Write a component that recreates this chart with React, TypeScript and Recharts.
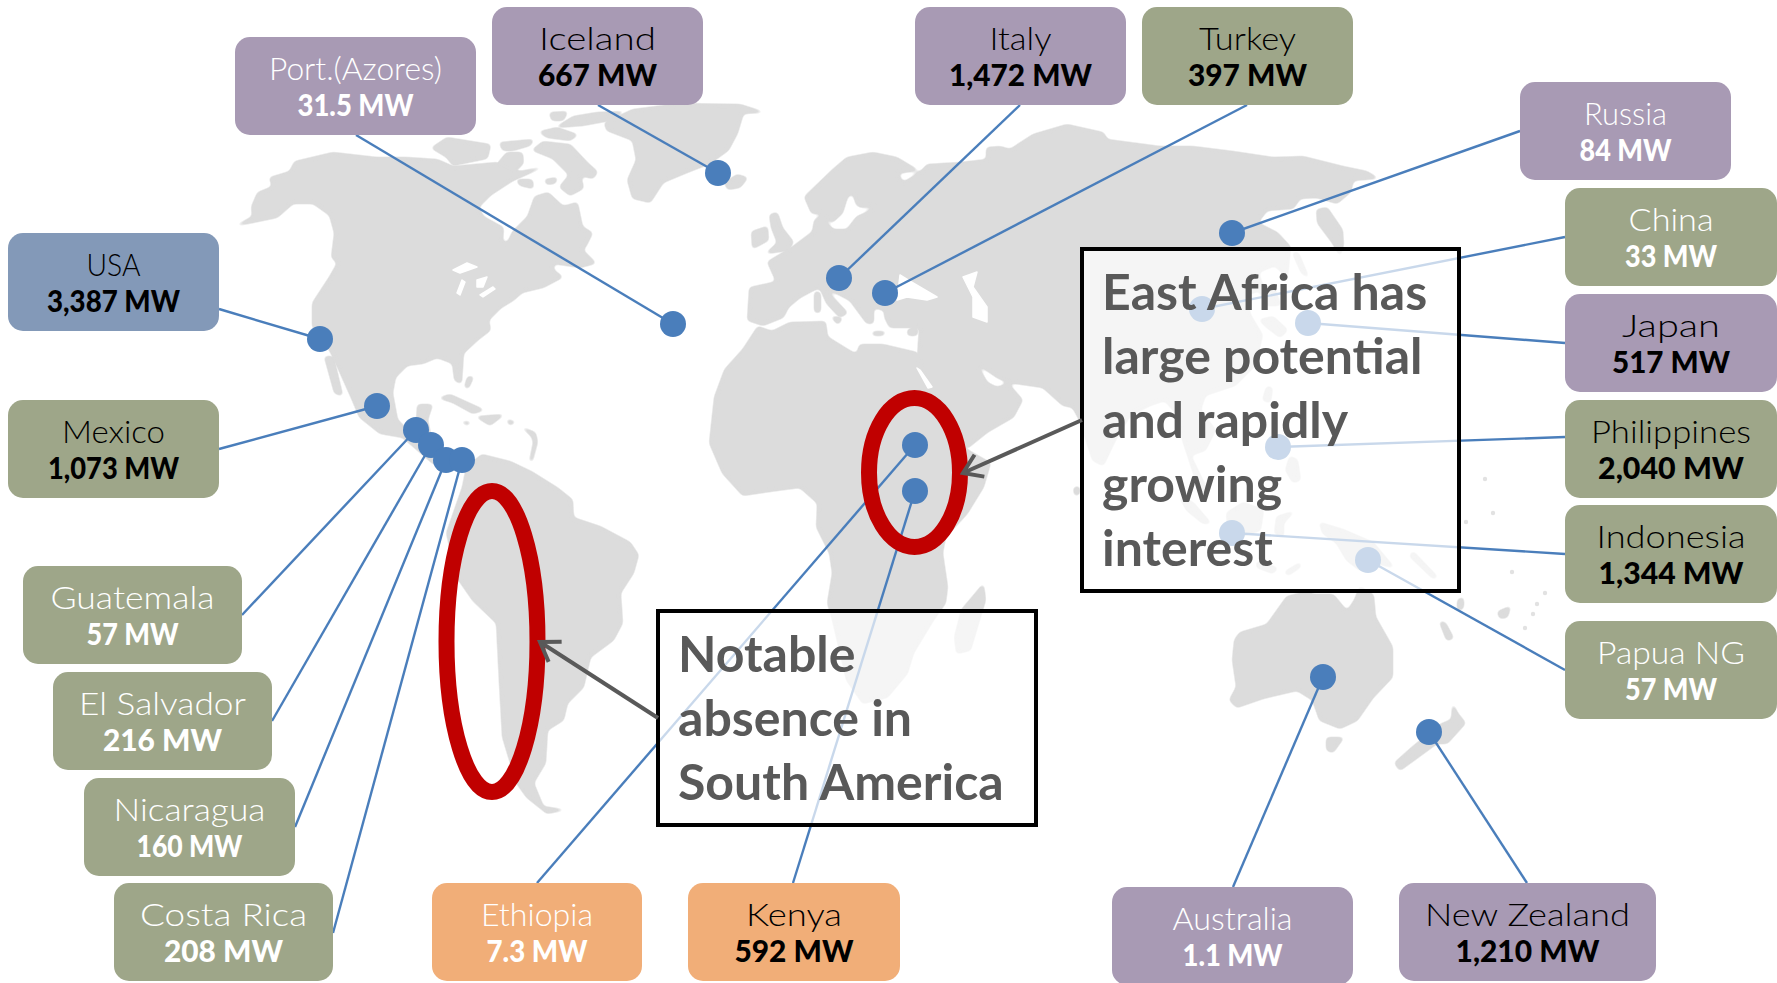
import { ScatterChart, Scatter, XAxis, YAxis } from "recharts";

const WIDTH = 1777;
const HEIGHT = 983;

type Pt = [number, number];

// Installed geothermal capacity by country
const countries = [
  "Port.(Azores)", "Iceland", "Italy", "Turkey", "Russia", "USA", "China", "Japan", "Mexico", "Philippines",
  "Indonesia", "Guatemala", "El Salvador", "Nicaragua", "Papua NG", "Costa Rica", "Ethiopia", "Kenya", "Australia", "New Zealand",
];
const capacityMw = [31.5, 667, 1472, 397, 84, 3387, 33, 517, 1073, 2040, 1344, 57, 216, 160, 57, 208, 7.3, 592, 1.1, 1210];
const regionGroup = [
  "europe", "europe", "europe", "asia", "europe", "usa", "asia", "europe", "asia", "asia",
  "asia", "asia", "asia", "asia", "asia", "asia", "africa", "africa", "europe", "europe",
];
const lightLabel = [true, false, false, false, true, false, true, false, false, false, false, true, true, true, true, true, true, false, true, false];

// Site positions on the map, in map units
const siteX = [673, 718, 839, 885, 1232, 320, 1202, 1308, 377, 1278, 1232, 416, 431, 446, 1368, 462, 915, 915, 1323, 1429];
const siteY = [324, 173, 278, 293, 233, 339, 309, 323, 406, 447, 533, 430, 445, 460, 560, 460, 445, 491, 677, 732];

// Callout box layout
const boxLeft = [235, 492, 915, 1142, 1520, 8, 1565, 1565, 8, 1565, 1565, 23, 53, 84, 1565, 114, 432, 688, 1112, 1399];
const boxTop = [37, 7, 7, 7, 82, 233, 188, 294, 400, 400, 505, 566, 672, 778, 621, 883, 883, 883, 887, 883];
const boxWidth = [241, 211, 211, 211, 211, 211, 212, 212, 211, 212, 212, 219, 219, 211, 212, 219, 210, 212, 241, 257];
const anchorX = [356, 598, 1020, 1247, 1520, 219, 1565, 1565, 219, 1565, 1565, 242, 272, 295, 1565, 333, 537, 793, 1233, 1527];
const anchorY = [135, 105, 105, 105, 131, 309, 237, 343, 449, 437, 554, 615, 721, 827, 670, 933, 883, 883, 887, 883];
const nameWidth = [173, 117, 62, 97, 83, 54, 85, 98, 103, 160, 149, 164, 167, 152, 148, 167, 112, 96, 120, 205];
const valueWidth = [116, 119, 143, 119, 92, 133, 92, 118, 131, 146, 145, 92, 119, 106, 92, 119, 101, 119, 100, 144];
const BOX_HEIGHT = 98;

const groupFill: Record<string, string> = { europe: "#a89ab4", asia: "#9ea689", usa: "#8399b8", africa: "#f1ae78" };

// Land outlines
const northAmerica: Pt[] = [
  [238, 225], [253, 217], [252, 207], [258, 193], [273, 187], [270, 178], [290, 172], [295, 162], [333, 153], [377, 158], [407, 158],
  [437, 160], [453, 167], [497, 163], [520, 172], [540, 168], [513, 180], [490, 195], [478, 207], [483, 217], [503, 228], [502, 243],
  [508, 243], [513, 232], [528, 217], [535, 197], [548, 193], [563, 207], [577, 203], [582, 227], [592, 233], [585, 247], [573, 253],
  [582, 250], [595, 263], [580, 267], [553, 263], [553, 270], [562, 277], [543, 287], [522, 292], [513, 300], [500, 308], [488, 320],
  [490, 330], [477, 340], [463, 353], [461, 383], [455, 380], [453, 363], [437, 357], [423, 363], [407, 365], [395, 377], [392, 393],
  [397, 420], [410, 433], [417, 420], [418, 405], [432, 405], [427, 420], [433, 447], [453, 458], [477, 460], [453, 470], [433, 463],
  [403, 437], [380, 433], [360, 417], [352, 398], [335, 360], [330, 350], [313, 327], [313, 303], [330, 277], [338, 263], [332, 257],
  [335, 233], [330, 215], [313, 203], [293, 203], [277, 217], [253, 222],
];
const baja: Pt[] = [[325, 357], [333, 357], [342, 395], [335, 393]];
const baffin: Pt[] = [[533, 150], [543, 142], [570, 145], [587, 163], [597, 172], [593, 178], [580, 175], [583, 188], [570, 195], [560, 187], [570, 175], [553, 158]];
const victoria: Pt[] = [[432, 148], [447, 138], [490, 145], [487, 158], [453, 165], [447, 157]];
const banks: Pt[] = [[500, 143], [533, 140], [530, 145], [513, 150], [503, 150]];
const somerset: Pt[] = [[507, 153], [522, 153], [523, 163], [513, 173], [497, 165]];
const southampton: Pt[] = [[517, 180], [532, 180], [533, 188], [520, 185]];
const coats: Pt[] = [[545, 180], [557, 178], [555, 183], [547, 184]];
const devon: Pt[] = [[540, 132], [557, 128], [577, 135], [570, 140], [547, 137]];
const melville: Pt[] = [[550, 113], [567, 112], [563, 120], [552, 120]];
const ellesmere: Pt[] = [[557, 127], [573, 117], [597, 113], [623, 112], [610, 120], [583, 125]];
const greenland: Pt[] = [[605, 123], [633, 110], [680, 104], [740, 105], [762, 112], [743, 113], [737, 133], [728, 150], [710, 163], [687, 172], [663, 182], [650, 202], [633, 198], [628, 180], [637, 160], [633, 140], [607, 130]];
const cuba: Pt[] = [[440, 398], [450, 395], [483, 410], [473, 413], [453, 402]];
const hispaniola: Pt[] = [[477, 417], [503, 415], [490, 425]];
const jamaica: Pt[] = [[462, 422], [470, 422], [468, 425]];
const puertoRico: Pt[] = [[507, 420], [515, 422], [510, 425]];
const bahamas: Pt[] = [[465, 387], [468, 377], [473, 377], [468, 388]];
const antilles: Pt[] = [[523, 428], [535, 433], [537, 442], [532, 461], [530, 461], [534, 442], [532, 436]];
const southAmerica: Pt[] = [
  [482, 455], [510, 462], [533, 473], [557, 488], [572, 500], [573, 518], [600, 527], [630, 543], [638, 555], [633, 573], [620, 593],
  [622, 623], [613, 640], [590, 657], [583, 687], [567, 703], [563, 720], [547, 730], [545, 763], [533, 783], [543, 807], [563, 810],
  [547, 813], [527, 797], [517, 783], [503, 737], [500, 683], [497, 623], [473, 600], [457, 577], [447, 533], [463, 487], [467, 467],
];
const iceland: Pt[] = [[725, 183], [737, 175], [747, 178], [740, 187], [728, 189]];
const ireland: Pt[] = [[752, 232], [767, 227], [768, 240], [753, 248]];
const britain: Pt[] = [[770, 215], [777, 213], [782, 228], [793, 242], [788, 250], [767, 253], [778, 243], [772, 228]];
const eurasia: Pt[] = [
  [748, 320], [750, 288], [777, 282], [768, 262], [793, 247], [813, 232], [815, 220], [827, 213], [825, 222], [833, 230], [847, 230],
  [857, 217], [862, 215], [880, 205], [862, 207], [857, 205], [852, 190], [863, 180], [847, 197], [842, 213], [832, 222], [823, 213],
  [812, 213], [805, 197], [833, 170], [847, 158], [873, 153], [897, 158], [917, 170], [897, 173], [903, 183], [913, 177], [923, 170],
  [927, 165], [960, 163], [987, 160], [987, 148], [1000, 147], [1010, 150], [1033, 135], [1067, 125], [1103, 133], [1107, 140], [1160, 147],
  [1193, 147], [1233, 152], [1273, 158], [1303, 157], [1343, 167], [1367, 172], [1377, 178], [1353, 180], [1350, 192], [1337, 203],
  [1317, 197], [1300, 198], [1293, 208], [1267, 210], [1257, 223], [1277, 233], [1290, 247], [1287, 277], [1275, 265], [1258, 272],
  [1262, 285], [1275, 290], [1280, 305], [1265, 305], [1260, 290], [1245, 295], [1250, 315], [1262, 335], [1255, 365], [1235, 385],
  [1205, 395], [1200, 410], [1215, 430], [1205, 450], [1190, 455], [1207, 490], [1200, 492], [1183, 440], [1178, 415], [1165, 400],
  [1150, 405], [1130, 415], [1115, 440], [1103, 465], [1093, 460], [1080, 420], [1073, 407], [1063, 405], [1043, 387], [1008, 382],
  [997, 377], [975, 362], [987, 383], [997, 388], [1008, 384], [1022, 400], [1013, 417], [987, 432], [967, 448], [940, 420], [925, 385],
  [918, 357], [920, 327], [907, 327], [890, 327], [885, 317], [885, 310], [873, 307], [873, 323], [867, 323], [850, 300], [837, 293],
  [823, 288], [832, 297], [847, 313], [840, 317], [827, 303], [820, 287], [813, 290], [800, 297], [788, 307], [783, 317], [763, 325],
];
const africa: Pt[] = [
  [758, 327], [772, 332], [790, 323], [825, 322], [827, 337], [848, 350], [857, 355], [860, 345], [883, 345], [917, 353], [935, 395],
  [967, 450], [990, 463], [983, 487], [967, 513], [945, 537], [942, 553], [947, 587], [945, 603], [933, 620], [913, 653], [907, 673],
  [887, 697], [863, 703], [847, 680], [833, 620], [828, 603], [833, 573], [830, 553], [817, 527], [818, 503], [800, 487], [777, 490],
  [743, 495], [723, 473], [710, 443], [715, 397], [725, 370], [743, 350],
];
const madagascar: Pt[] = [[983, 585], [985, 600], [970, 650], [957, 653], [955, 637], [962, 610], [973, 597]];
const sicily: Pt[] = [[832, 317], [842, 318], [838, 324]];
const sardinia: Pt[] = [[815, 292], [820, 293], [820, 312], [815, 312]];
const crete: Pt[] = [[873, 332], [885, 332], [883, 335], [873, 335]];
const cyprus: Pt[] = [[908, 330], [917, 327], [917, 335], [908, 335]];
const kamchatka: Pt[] = [[1317, 210], [1327, 208], [1342, 230], [1343, 245], [1340, 255], [1333, 243], [1318, 223]];
const sakhalin: Pt[] = [[1293, 253], [1298, 253], [1308, 277], [1302, 273]];
const japan: Pt[] = [[1260, 320], [1273, 317], [1287, 330], [1280, 337], [1267, 327]];
const srilanka: Pt[] = [[1074, 488], [1079, 487], [1079, 494], [1075, 495]];
const luzon: Pt[] = [[1267, 387], [1272, 388], [1270, 402], [1263, 400]];
const mindanao: Pt[] = [[1290, 457], [1297, 460], [1300, 480], [1293, 482], [1286, 470]];
const sumatra: Pt[] = [[1180, 497], [1193, 503], [1210, 523], [1203, 523], [1187, 510]];
const borneo: Pt[] = [[1227, 513], [1243, 503], [1263, 510], [1260, 530], [1237, 537], [1228, 527]];
const sulawesi: Pt[] = [[1277, 517], [1293, 512], [1283, 523], [1283, 537], [1275, 533]];
const java: Pt[] = [[1257, 562], [1277, 568], [1273, 573], [1257, 567]];
const timor: Pt[] = [[1285, 572], [1300, 563], [1300, 567], [1288, 575]];
const newGuinea: Pt[] = [[1320, 523], [1343, 530], [1373, 543], [1393, 567], [1377, 563], [1360, 570], [1347, 560], [1337, 543], [1323, 533]];
const solomons: Pt[] = [[1413, 552], [1437, 577], [1433, 578], [1410, 556]];
const australia: Pt[] = [
  [1235, 640], [1240, 633], [1267, 625], [1287, 597], [1307, 592], [1313, 595], [1333, 595], [1347, 612], [1355, 600], [1360, 587],
  [1373, 595], [1375, 617], [1392, 647], [1392, 677], [1373, 697], [1357, 720], [1340, 728], [1320, 720], [1313, 700], [1297, 690],
  [1263, 698], [1237, 707], [1230, 700], [1237, 687], [1233, 660],
];
const tasmania: Pt[] = [[1327, 738], [1343, 738], [1333, 752], [1327, 750]];
const newZealand: Pt[] = [[1453, 705], [1457, 713], [1465, 723], [1447, 743], [1437, 743], [1400, 770], [1395, 763], [1413, 747], [1440, 725], [1452, 720]];
const newCaledonia: Pt[] = [[1440, 622], [1445, 623], [1453, 638], [1447, 640]];
const vanuatu: Pt[] = [[1458, 600], [1463, 598], [1463, 608], [1458, 610]];
const fiji: Pt[] = [[1498, 612], [1510, 607], [1507, 617], [1500, 618]];
const landMasses = [
  northAmerica, baja, baffin, victoria, banks, somerset, southampton, coats, devon, melville, ellesmere, greenland, cuba, hispaniola,
  jamaica, puertoRico, bahamas, antilles, southAmerica, iceland, ireland, britain, eurasia, africa, madagascar, sicily, sardinia, crete,
  cyprus, kamchatka, sakhalin, japan, srilanka, luzon, mindanao, sumatra, borneo, sulawesi, java, timor, newGuinea, solomons, australia,
  tasmania, newZealand, newCaledonia, vanuatu, fiji,
];
const pacificSpecks: Pt[] = [[1493, 513], [1466, 522], [1485, 479], [1512, 572], [1545, 593], [1537, 604], [1533, 614], [1525, 628]];

// Inland water cut out of the land fill
const lakeSuperior: Pt[] = [[453, 270], [467, 263], [477, 267], [460, 273]];
const lakeMichigan: Pt[] = [[457, 293], [462, 280], [465, 282], [460, 295]];
const lakeHuron: Pt[] = [[477, 280], [487, 277], [483, 287], [477, 287]];
const lakeErie: Pt[] = [[480, 295], [493, 287], [495, 289], [483, 297]];
const blackSea: Pt[] = [[900, 275], [908, 280], [937, 297], [927, 300], [907, 297], [897, 300]];
const caspian: Pt[] = [[963, 277], [977, 272], [973, 287], [987, 307], [987, 322], [973, 317], [973, 297]];
const redSea: Pt[] = [[917, 368], [920, 370], [932, 387], [928, 388]];
const waters = [lakeSuperior, lakeMichigan, lakeHuron, lakeErie, blackSea, caspian, redSea];

// Focus rings, arrows and notes
const rings = [
  { x: 492, y: 641.5, rx: 45.5, ry: 150.5 },
  { x: 914.5, y: 472.5, rx: 45.5, ry: 74.5 },
];
const arrows: Pt[][] = [
  [[658, 718], [540, 642]],
  [[1082, 420], [963, 473]],
];
const notes = [
  { x: 1082, y: 249, w: 377, h: 342, lines: ["East Africa has", "large potential", "and rapidly", "growing", "interest"] },
  { x: 658, y: 611, w: 378, h: 214, lines: ["Notable", "absence in", "South America"] },
];

const LAND = "#dcdcdc";
const BLUE = "#4a7ebb";
const RED = "#c00000";
const GREY = "#595959";
const LABEL_FONT = "Lato, sans-serif";

const toPoints = (pts: Pt[]) => pts.map(([x, y]) => ({ x, y }));
const noMark = () => <g />;

const callouts = countries.map((name, i) => ({
  x: boxLeft[i],
  y: boxTop[i],
  name,
  label: `${capacityMw[i].toLocaleString("en-US")} MW`,
  width: boxWidth[i],
  nameWidth: nameWidth[i],
  valueWidth: valueWidth[i],
  fill: groupFill[regionGroup[i]],
  ink: lightLabel[i] ? "#ffffff" : "#000000",
}));

function CalloutBox({ cx, cy, payload }: any) {
  const mid = cx + payload.width / 2;
  return (
    <g textAnchor="middle" fontFamily={LABEL_FONT} fill={payload.ink}>
      <rect x={cx} y={cy} width={payload.width} height={BOX_HEIGHT} rx={15} fill={payload.fill} />
      <text x={mid} y={cy + 43} fontSize={32} fontWeight={300} textLength={payload.nameWidth} lengthAdjust="spacingAndGlyphs">
        {payload.name}
      </text>
      <text x={mid} y={cy + 79} fontSize={31} fontWeight={900} textLength={payload.valueWidth} lengthAdjust="spacingAndGlyphs">
        {payload.label}
      </text>
    </g>
  );
}

function Ring({ cx, cy, payload }: any) {
  return <ellipse cx={cx} cy={cy} rx={payload.rx} ry={payload.ry} fill="none" stroke={RED} strokeWidth={16} />;
}

function Note({ cx, cy, payload }: any) {
  return (
    <g>
      <rect x={cx} y={cy} width={payload.w} height={payload.h} fill="#ffffff" fillOpacity={0.7} stroke="#000000" strokeWidth={4} />
      {payload.lines.map((line: string, i: number) => (
        <text key={line} x={cx + 20} y={cy + 61 + i * 64} fontFamily={LABEL_FONT} fontWeight={700} fontSize={50} fill={GREY}>
          {line}
        </text>
      ))}
    </g>
  );
}

export default function App() {
  return (
    <div style={{ position: "fixed", left: 0, top: 0, width: WIDTH, height: HEIGHT, background: "#ffffff" }}>
      <style>{`.land-mass .recharts-curve { filter: url(#softCoast); }`}</style>
      <ScatterChart width={WIDTH} height={HEIGHT} margin={{ top: 0, right: 0, bottom: 0, left: 0 }}>
        <defs>
          <marker id="arrowHead" markerUnits="userSpaceOnUse" markerWidth="30" markerHeight="30" refX="24" refY="15" orient="auto">
            <path d="M6 3 L24 15 L6 27" fill="none" stroke={GREY} strokeWidth={4} />
          </marker>
          {/* blur then sharpen the alpha, which rounds the outline corners */}
          <filter id="softCoast" filterUnits="userSpaceOnUse" x="0" y="0" width={WIDTH} height={HEIGHT}>
            <feGaussianBlur stdDeviation="2" />
            <feComponentTransfer>
              <feFuncA type="linear" slope="4" intercept="-1.4" />
            </feComponentTransfer>
          </filter>
        </defs>
        <XAxis type="number" dataKey="x" domain={[0, WIDTH]} hide />
        <YAxis type="number" dataKey="y" domain={[0, HEIGHT]} reversed hide />

        {landMasses.map((land, i) => (
          <Scatter
            key={`land-${i}`}
            className="land-mass"
            data={toPoints(land)}
            shape={noMark}
            line={{ fill: LAND, stroke: LAND, strokeWidth: 2, strokeLinejoin: "round" }}
            lineJointType="linearClosed"
            isAnimationActive={false}
          />
        ))}
        {waters.map((water, i) => (
          <Scatter
            key={`water-${i}`}
            data={toPoints(water)}
            shape={noMark}
            line={{ fill: "#ffffff", stroke: "#ffffff", strokeWidth: 1.5, strokeLinejoin: "round" }}
            lineJointType="linearClosed"
            isAnimationActive={false}
          />
        ))}
        <Scatter
          data={toPoints(pacificSpecks)}
          shape={({ cx, cy }: any) => <circle cx={cx} cy={cy} r={2.2} fill="#e2e2e2" />}
          isAnimationActive={false}
        />

        {countries.map((name, i) => (
          <Scatter
            key={`link-${name}`}
            data={[{ x: siteX[i], y: siteY[i] }, { x: anchorX[i], y: anchorY[i] }]}
            shape={noMark}
            line={{ stroke: BLUE, strokeWidth: 2.4 }}
            isAnimationActive={false}
          />
        ))}
        <Scatter
          data={siteX.map((x, i) => ({ x, y: siteY[i] }))}
          shape={({ cx, cy }: any) => <circle cx={cx} cy={cy} r={13} fill={BLUE} />}
          isAnimationActive={false}
        />

        <Scatter data={rings} shape={Ring} isAnimationActive={false} />
        <Scatter data={notes} shape={Note} isAnimationActive={false} />
        {arrows.map((arrow, i) => (
          <Scatter
            key={`arrow-${i}`}
            data={toPoints(arrow)}
            shape={noMark}
            line={{ stroke: GREY, strokeWidth: 4, markerEnd: "url(#arrowHead)" }}
            isAnimationActive={false}
          />
        ))}
        <Scatter data={callouts} shape={CalloutBox} isAnimationActive={false} />
      </ScatterChart>
    </div>
  );
}
